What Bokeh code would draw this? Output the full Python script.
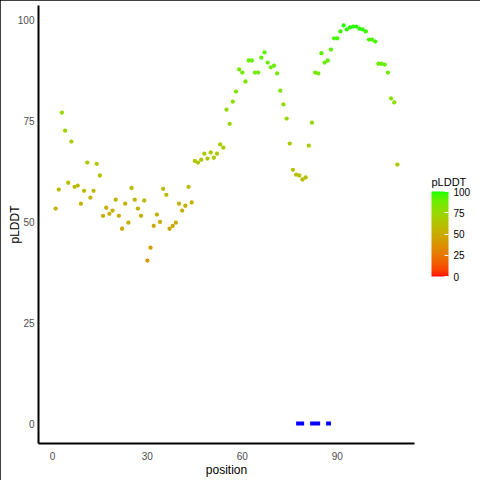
import numpy as np
from bokeh.plotting import figure
from bokeh.models import (LinearColorMapper, ColorBar, ColumnDataSource,
                          FixedTicker, Range1d, Label)
from bokeh.transform import transform
from bokeh.embed import file_html
from bokeh.resources import INLINE

# ---- data -------------------------------------------------------------
positions = list(range(1, 110))
plddt = [53.3, 58.0, 77.1, 72.6, 59.7, 69.9, 58.7, 59.0, 54.5, 57.7,
         64.7, 56.0, 57.7, 64.4, 61.5, 51.5, 53.5, 52.0, 52.8, 55.5,
         51.5, 48.3, 54.5, 49.8, 58.4, 55.5, 53.3, 51.5, 55.3, 40.4,
         43.6, 49.0, 51.8, 50.0, 58.2, 56.7, 48.3, 49.0, 49.8, 54.5,
         52.8, 54.0, 58.7, 54.8, 65.1, 64.7, 65.4, 66.9, 65.7, 67.2,
         65.9, 66.9, 69.2, 68.4, 77.8, 74.3, 79.8, 82.3, 87.8, 87.0,
         84.8, 90.0, 90.0, 87.0, 87.0, 90.7, 92.0, 89.5, 88.3, 88.7,
         86.8, 82.5, 79.1, 75.6, 69.4, 62.9, 61.7, 61.5, 60.5, 61.0,
         68.9, 74.6, 87.0, 86.8, 91.8, 89.5, 90.0, 92.7, 95.5, 95.5,
         97.2, 98.7, 97.7, 98.2, 98.4, 98.4, 97.9, 97.7, 97.2, 95.2,
         95.2, 94.7, 89.2, 89.2, 89.0, 87.0, 80.6, 79.6, 64.2]
segment_x = [77, 88]
segment_y = [0, 0]
x_ticks = [0, 30, 60, 90]
y_ticks = [0, 25, 50, 75, 100]
legend_ticks = [0, 25, 50, 75, 100]
color_low, color_high = "#FF0000", "#00FF00"

# ---- Lab gradient palette (like ggplot's scale_colour_gradient) -------
def _hex_to_rgb(h):
    h = h.lstrip("#")
    return [int(h[i:i + 2], 16) / 255 for i in (0, 2, 4)]

def _to_lab(h):
    c = np.array(_hex_to_rgb(h))
    lin = np.where(c <= 0.04045, c / 12.92, ((c + 0.055) / 1.055) ** 2.4)
    M = np.array([[0.4124, 0.3576, 0.1805],
                  [0.2126, 0.7152, 0.0722],
                  [0.0193, 0.1192, 0.9505]])
    X, Y, Z = M @ lin
    X /= 0.95047; Z /= 1.08883
    f = lambda t: np.cbrt(t) if t > 0.008856 else 7.787 * t + 16 / 116
    fx, fy, fz = f(X), f(Y), f(Z)
    return np.array([116 * fy - 16, 500 * (fx - fy), 200 * (fy - fz)])

def _from_lab(lab):
    L, a, b = lab
    fy = (L + 16) / 116; fx = fy + a / 500; fz = fy - b / 200
    g = lambda t: t ** 3 if t ** 3 > 0.008856 else (t - 16 / 116) / 7.787
    X, Y, Z = g(fx) * 0.95047, g(fy), g(fz) * 1.08883
    Mi = np.array([[3.2406, -1.5372, -0.4986],
                   [-0.9689, 1.8758, 0.0415],
                   [0.0557, -0.2040, 1.0570]])
    lin = np.clip(Mi @ np.array([X, Y, Z]), 0, 1)
    c = np.where(lin <= 0.0031308, 12.92 * lin, 1.055 * lin ** (1 / 2.4) - 0.055)
    c = np.clip(np.round(c * 255), 0, 255).astype(int)
    return "#%02X%02X%02X" % tuple(c)

lab_lo, lab_hi = _to_lab(color_low), _to_lab(color_high)
palette = [_from_lab(lab_lo + (lab_hi - lab_lo) * t) for t in np.linspace(0, 1, 256)]
mapper = LinearColorMapper(palette=palette, low=0, high=100)

# ---- figure -----------------------------------------------------------
FONT = "Liberation Sans"
src = ColumnDataSource(dict(position=positions, plddt=plddt))

xpad = (max(positions) - min(positions)) * 0.05
ypad = (max(plddt) - 0) * 0.05
p = figure(width=480, height=480, output_backend="svg", toolbar_location=None,
           x_range=Range1d(min(positions) - xpad, max(positions) + xpad),
           y_range=Range1d(0 - ypad, max(plddt) + ypad),
           min_border_left=38, min_border_right=66, min_border_top=5,
           min_border_bottom=37)
p.styles = {"outline": "1px solid black", "outline-offset": "-1px"}
p.outline_line_color = None
p.background_fill_color = "white"
p.border_fill_color = "white"
p.xgrid.grid_line_color = None
p.ygrid.grid_line_color = None

for ax in (p.xaxis[0], p.yaxis[0]):
    ax.axis_line_width = 2
    ax.axis_line_color = "black"
    ax.major_tick_line_color = None
    ax.minor_tick_line_color = None
    ax.major_tick_out = 0
    ax.major_tick_in = 0
    ax.major_label_text_font = FONT
    ax.major_label_text_font_size = "10px"
    ax.major_label_text_color = "#4D4D4D"
    ax.axis_label_text_font = FONT
    ax.axis_label_text_font_size = "12px"
    ax.axis_label_text_font_style = "normal"
    ax.axis_label_text_color = "black"

p.xaxis.ticker = FixedTicker(ticks=x_ticks)
p.yaxis.ticker = FixedTicker(ticks=y_ticks)
p.xaxis.axis_label = "position"
p.yaxis.axis_label = "pLDDT"
p.xaxis.major_label_standoff = 8
p.xaxis.axis_label_standoff = 0
p.yaxis.major_label_standoff = 4
p.yaxis.axis_label_standoff = -7

p.line(x=segment_x, y=segment_y, line_color="#0000FF", line_width=4,
       line_dash="10 6", line_dash_offset=2)
p.scatter(x="position", y="plddt", source=src, size=4.3, marker="circle",
          fill_color=transform("plddt", mapper), line_color=None)

cb = ColorBar(color_mapper=mapper, location=(393, 167), width=17, height=85,
              padding=0, margin=0,
              ticker=FixedTicker(ticks=legend_ticks),
              major_tick_line_color="white", major_tick_in=4, major_tick_out=0,
              minor_tick_line_color=None, bar_line_color=None,
              background_fill_color=None, border_line_color=None,
              label_standoff=5,
              major_label_text_font=FONT, major_label_text_font_size="10px",
              major_label_text_color="black")
p.add_layout(cb, "center")

legend_title = Label(x=17, y=262, x_units="screen", y_units="screen",
                     text="pLDDT", text_font=FONT, text_font_size="11px",
                     text_color="black", text_baseline="alphabetic")
p.add_layout(legend_title, "right")

open("out.html", "w").write(file_html(p, INLINE))
